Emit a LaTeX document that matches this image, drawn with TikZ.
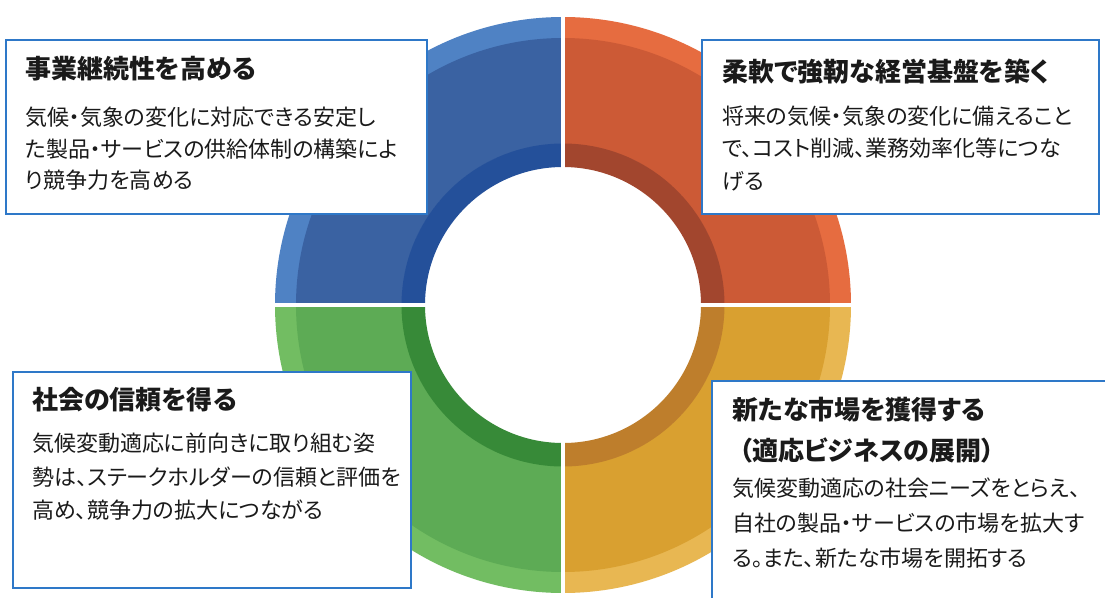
\documentclass[tikz,border=0pt]{standalone}
\usepackage{fontspec}
\setmainfont[RawFeature=+palt]{Noto Sans CJK JP}
\usetikzlibrary{calc}
\definecolor{bluemain}{HTML}{3A62A2}
\definecolor{bluerim}{HTML}{4F82C4}
\definecolor{bluein}{HTML}{24509A}
\definecolor{ormain}{HTML}{CC5A36}
\definecolor{orrim}{HTML}{E66C40}
\definecolor{orin}{HTML}{A2462E}
\definecolor{yemain}{HTML}{D9A030}
\definecolor{yerim}{HTML}{E8B752}
\definecolor{yein}{HTML}{BE7E2C}
\definecolor{grmain}{HTML}{5DAB55}
\definecolor{grrim}{HTML}{72BD62}
\definecolor{grin}{HTML}{378A38}
\definecolor{boxline}{HTML}{2E78C8}
\definecolor{txt}{HTML}{1A1A1A}
\newcommand\ringsec[5]{%
  \fill[#1] ($(c)+(#2:#5)$) arc[start angle=#2,end angle=#3,radius=#5]
    -- ($(c)+(#3:#4)$) arc[start angle=#3,end angle=#2,radius=#4] -- cycle;}
\tikzset{
  infobox/.style={draw=boxline,line width=1.5pt,fill=white,anchor=north west,inner sep=0pt},
  ttl/.style={anchor=west,inner sep=0pt,font=\fontsize{26}{30}\selectfont\bfseries,text=txt},
  bdy/.style={anchor=west,inner sep=0pt,font=\fontsize{22}{26}\selectfont,text=txt}
}
\begin{document}
\begin{tikzpicture}[x=1pt,y=-1pt]
\useasboundingbox (0,0) rectangle (1105,597);
\fill[white] (0,0) rectangle (1105,597);
\coordinate (c) at (563,305);
% top-left blue: user angles 180-270
\ringsec{bluerim}{180}{270}{266}{288}
\ringsec{bluemain}{180}{270}{161}{267}
\ringsec{bluein}{180}{270}{138}{161.5}
% top-right orange: 270-360
\ringsec{orrim}{270}{360}{266}{288}
\ringsec{ormain}{270}{360}{161}{267}
\ringsec{orin}{270}{360}{138}{161.5}
% bottom-right yellow: 0-90
\ringsec{yerim}{0}{90}{266}{288}
\ringsec{yemain}{0}{90}{161}{267}
\ringsec{yein}{0}{90}{138}{161.5}
% bottom-left green: 90-180
\ringsec{grrim}{90}{180}{266}{288}
\ringsec{grmain}{90}{180}{161}{267}
\ringsec{grin}{90}{180}{138}{161.5}
\coordinate (gt) at (563,10);
\coordinate (gb) at (563,600);
\coordinate (gl) at (270,305);
\coordinate (gr) at (856,305);
\draw[white,line width=4pt] (gt) -- (gb);
\draw[white,line width=4pt] (gl) -- (gr);

% boxes
\node[infobox,minimum width=421pt,minimum height=174pt] (b1) at (5,39) {};
\node[infobox,minimum width=397pt,minimum height=174pt] (b2) at (701,39) {};
\node[infobox,minimum width=398pt,minimum height=216pt] (b3) at (12,371) {};
\node[infobox,minimum width=420pt,minimum height=240pt] (b4) at (711,380) {};

% texts box 1
\node[ttl] (t1) at (25,69) {事業継続性を高める};
\node[bdy] (t1a) at (25,117) {気候・気象の変化に対応できる安定し};
\node[bdy] (t1b) at (25,149) {た製品・サービスの供給体制の構築によ};
\node[bdy] (t1c) at (25,180) {り競争力を高める};
% box 2
\node[ttl] (t2) at (722,72) {柔軟で強靭な経営基盤を築く};
\node[bdy] (t2a) at (722,116) {将来の気候・気象の変化に備えること};
\node[bdy] (t2b) at (722,148) {で、コスト削減、業務効率化等につな};
\node[bdy] (t2c) at (722,181) {げる};
% box 3
\node[ttl] (t3) at (32,400) {社会の信頼を得る};
\node[bdy] (t3a) at (32,443) {気候変動適応に前向きに取り組む姿};
\node[bdy] (t3b) at (32,477) {勢は、ステークホルダーの信頼と評価を};
\node[bdy] (t3c) at (32,510) {高め、競争力の拡大につながる};
% box 4
\node[ttl] (t4) at (732,410) {新たな市場を獲得する};
\node[ttl] (t4b) at (739,450) {（適応ビジネスの展開）};
\node[bdy] (t4c) at (732,488) {気候変動適応の社会ニーズをとらえ、};
\node[bdy] (t4d) at (732,523) {自社の製品・サービスの市場を拡大す};
\node[bdy] (t4e) at (732,558) {る。また、新たな市場を開拓する};
\end{tikzpicture}
\end{document}
